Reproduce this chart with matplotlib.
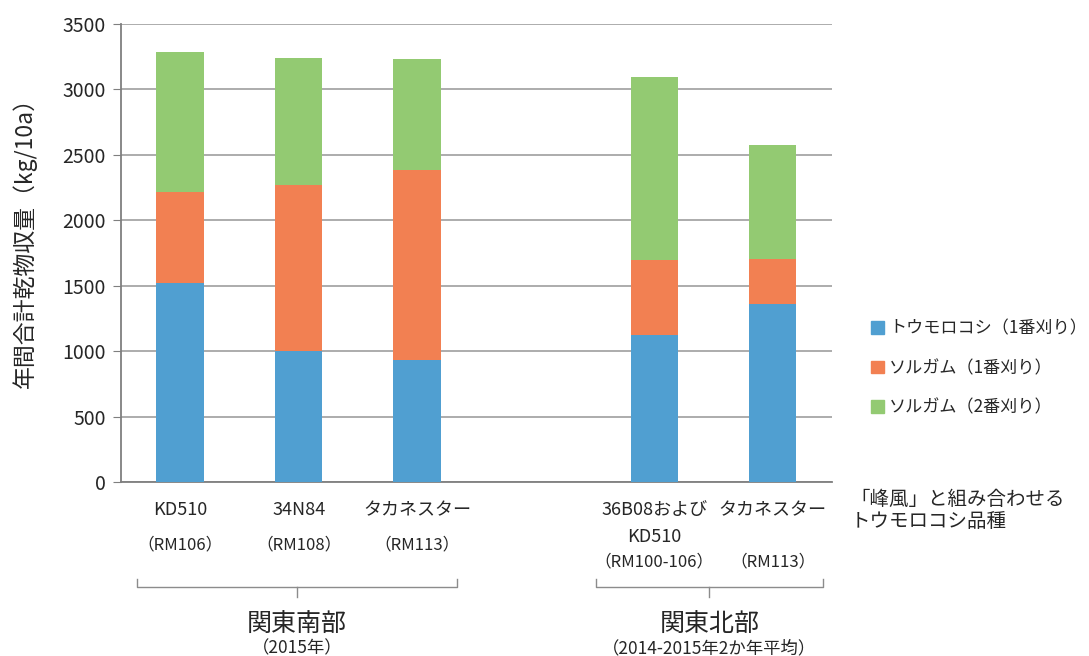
import numpy as np
import matplotlib.pyplot as plt
from matplotlib.patches import Patch

plt.rcParams['font.family'] = ['Noto Sans CJK JP', 'DejaVu Sans']

# data
varieties = ['KD510', '34N84', 'タカネスター', '36B08および\nKD510', 'タカネスター']
rm_labels = ['（RM106）', '（RM108）', '（RM113）', '（RM100-106）', '（RM113）']
slots = [0, 1, 2, 4, 5]  # slot 3 left empty between the two regions
corn_1st = [1521, 1000, 936, 1122, 1363]
sorghum_1st = [695, 1272, 1450, 577, 344]
sorghum_2nd = [1071, 965, 848, 1397, 870]
series_names = ['トウモロコシ（1番刈り）', 'ソルガム（1番刈り）', 'ソルガム（2番刈り）']
colors = ['#509FD1', '#F28052', '#93CA72']
regions = ['関東南部', '関東北部']
region_notes = ['（2015年）', '（2014-2015年2か年平均）']

txt = '#262626'

fig = plt.figure(figsize=(10.89, 6.56), dpi=100)
ax = fig.add_axes([0.111, 0.2648, 0.653, 0.6991])

bottom = np.zeros(len(slots))
for vals, c in zip([corn_1st, sorghum_1st, sorghum_2nd], colors):
    ax.bar(slots, vals, width=0.4, bottom=bottom, color=c, zorder=3)
    bottom += np.array(vals)

ax.set_xlim(-0.5, 5.5)
ax.set_ylim(0, 3500)
ax.set_yticks(np.arange(0, 3501, 500))
ax.yaxis.grid(True, color='#A6A6A6', linewidth=1.3, zorder=0)
ax.set_xticks([])
for s in ['top', 'right']:
    ax.spines[s].set_visible(False)
for s in ['left', 'bottom']:
    ax.spines[s].set_color('#7F7F7F')
    ax.spines[s].set_linewidth(1.3)
ax.tick_params(axis='y', length=6, color='#7F7F7F', labelsize=14, labelcolor=txt, pad=5)
ax.set_ylabel('年間合計乾物収量（kg/10a）', fontsize=16.5, color=txt, va='center')
ax.yaxis.set_label_coords(-0.136, 0.535)

tr = ax.get_xaxis_transform()
for s, name, rm in zip(slots, varieties, rm_labels):
    if '\n' in name:
        l1, l2 = name.split('\n')
        ax.text(s, -0.060, l1, transform=tr, ha='center', va='center', fontsize=13, color=txt)
        ax.text(s, -0.119, l2, transform=tr, ha='center', va='center', fontsize=13, color=txt)
        ax.text(s, -0.174, rm, transform=tr, ha='center', va='center', fontsize=12, color=txt)
    else:
        ax.text(s, -0.060, name, transform=tr, ha='center', va='center', fontsize=13, color=txt)
        ax.text(s, -0.137 if s < 3 else -0.174, rm, transform=tr, ha='center', va='center',
                fontsize=12, color=txt)

# brackets under each region
brackets = [(-0.365, 2.335), (3.51, 5.42)]
for (x0, x1), reg, note in zip(brackets, regions, region_notes):
    xm = (x0 + x1) / 2
    ax.plot([x0, x0, x1, x1], [-0.211, -0.228, -0.228, -0.211], transform=tr,
            color='#8C8C8C', lw=1, clip_on=False)
    ax.plot([xm, xm], [-0.228, -0.250], transform=tr, color='#8C8C8C', lw=1, clip_on=False)
    ax.text(xm, -0.311, reg, transform=tr, ha='center', va='center', fontsize=18, color=txt)
    ax.text(xm, -0.362, note, transform=tr, ha='center', va='center', fontsize=12.5, color=txt)

handles = [Patch(color=c) for c in colors]
fig.legend(handles, series_names, loc='center left', bbox_to_anchor=(0.786, 0.439),
           frameon=False, fontsize=12.3, handlelength=0.75, handleheight=0.75,
           handletextpad=0.3, labelspacing=1.25, labelcolor=txt)

fig.text(0.781, 0.222, '「峰風」と組み合わせる\nトウモロコシ品種', ha='left', va='center',
         fontsize=14, color=txt, linespacing=1.05)

fig.savefig('out.png', dpi=100)
